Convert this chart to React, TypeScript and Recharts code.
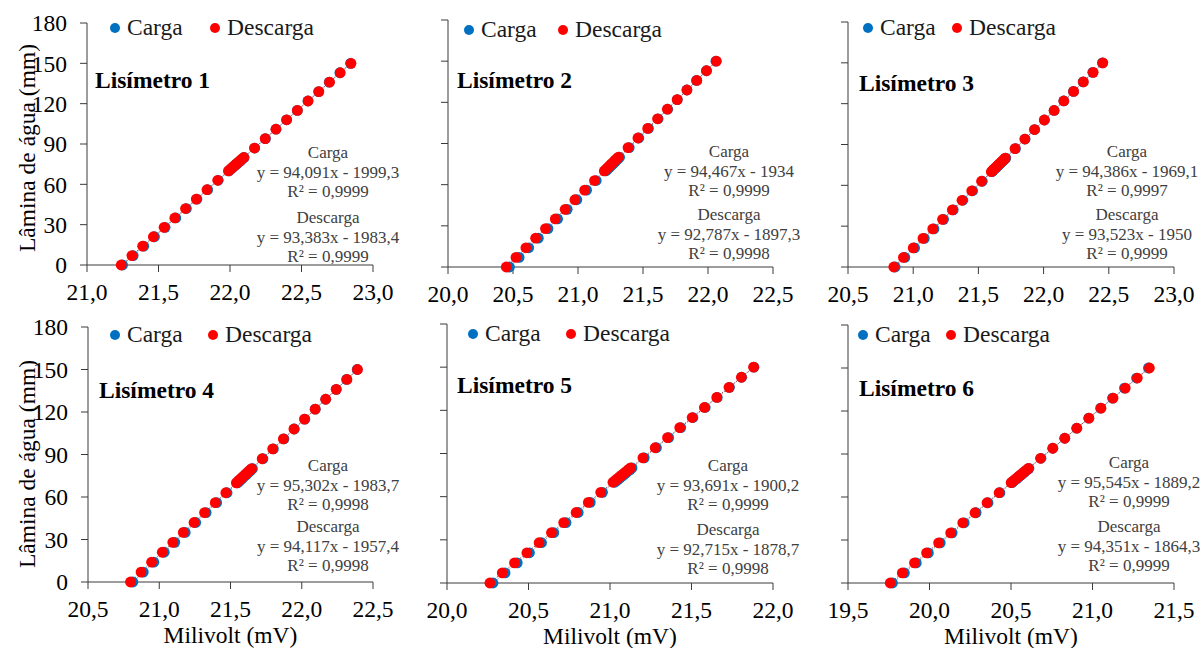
import React from 'react';
import { ScatterChart, Scatter, XAxis, YAxis, Legend } from 'recharts';

// ---------- data ----------
const lamina = [0, 7, 14, 21, 28, 35, 42, 49, 56, 63, 70, 71, 72, 73, 74, 75, 76, 77, 78, 79, 80, 87, 94, 101, 108, 115, 122, 129, 136, 143, 150];

const mv1Carga = [21.249, 21.323, 21.397, 21.472, 21.546, 21.621, 21.695, 21.769, 21.844, 21.918, 21.993, 22.003, 22.014, 22.024, 22.035, 22.046, 22.056, 22.067, 22.078, 22.088, 22.099, 22.173, 22.248, 22.322, 22.396, 22.471, 22.545, 22.620, 22.694, 22.768, 22.843];
const mv1Descarga = [21.239, 21.314, 21.389, 21.464, 21.539, 21.614, 21.689, 21.764, 21.839, 21.914, 21.989, 22.000, 22.010, 22.021, 22.032, 22.043, 22.053, 22.064, 22.075, 22.085, 22.096, 22.171, 22.246, 22.321, 22.396, 22.471, 22.546, 22.621, 22.696, 22.771, 22.846];

const mv2Carga = [20.473, 20.547, 20.621, 20.695, 20.769, 20.843, 20.917, 20.991, 21.066, 21.140, 21.214, 21.224, 21.235, 21.245, 21.256, 21.267, 21.277, 21.288, 21.298, 21.309, 21.320, 21.394, 21.468, 21.542, 21.616, 21.690, 21.764, 21.838, 21.912, 21.987, 22.061];
const mv2Descarga = [20.448, 20.523, 20.599, 20.674, 20.750, 20.825, 20.901, 20.976, 21.051, 21.127, 21.202, 21.213, 21.224, 21.235, 21.245, 21.256, 21.267, 21.278, 21.288, 21.299, 21.310, 21.385, 21.461, 21.536, 21.612, 21.687, 21.763, 21.838, 21.914, 21.989, 22.064];

const mv3Carga = [20.862, 20.936, 21.011, 21.085, 21.159, 21.233, 21.307, 21.381, 21.456, 21.530, 21.604, 21.614, 21.625, 21.636, 21.646, 21.657, 21.667, 21.678, 21.689, 21.699, 21.710, 21.784, 21.858, 21.932, 22.007, 22.081, 22.155, 22.229, 22.303, 22.377, 22.451];
const mv3Descarga = [20.851, 20.925, 21.000, 21.075, 21.150, 21.225, 21.300, 21.374, 21.449, 21.524, 21.599, 21.610, 21.620, 21.631, 21.642, 21.652, 21.663, 21.674, 21.685, 21.695, 21.706, 21.781, 21.856, 21.930, 22.005, 22.080, 22.155, 22.230, 22.305, 22.380, 22.454];

const mv4Carga = [20.815, 20.888, 20.962, 21.035, 21.109, 21.182, 21.256, 21.329, 21.403, 21.476, 21.549, 21.560, 21.570, 21.581, 21.591, 21.602, 21.612, 21.623, 21.633, 21.644, 21.654, 21.728, 21.801, 21.875, 21.948, 22.022, 22.095, 22.168, 22.242, 22.315, 22.389];
const mv4Descarga = [20.798, 20.872, 20.946, 21.021, 21.095, 21.169, 21.244, 21.318, 21.393, 21.467, 21.541, 21.552, 21.562, 21.573, 21.584, 21.594, 21.605, 21.616, 21.626, 21.637, 21.648, 21.722, 21.796, 21.871, 21.945, 22.019, 22.094, 22.168, 22.242, 22.317, 22.391];

const mv5Carga = [20.282, 20.356, 20.431, 20.506, 20.580, 20.655, 20.730, 20.805, 20.879, 20.954, 21.029, 21.039, 21.050, 21.061, 21.071, 21.082, 21.093, 21.103, 21.114, 21.125, 21.135, 21.210, 21.285, 21.360, 21.434, 21.509, 21.584, 21.658, 21.733, 21.808, 21.883];
const mv5Descarga = [20.263, 20.339, 20.414, 20.490, 20.565, 20.641, 20.716, 20.792, 20.867, 20.943, 21.018, 21.029, 21.040, 21.051, 21.061, 21.072, 21.083, 21.094, 21.105, 21.115, 21.126, 21.202, 21.277, 21.353, 21.428, 21.504, 21.579, 21.655, 21.730, 21.806, 21.881];

const mv6Carga = [19.773, 19.846, 19.919, 19.993, 20.066, 20.139, 20.213, 20.286, 20.359, 20.432, 20.506, 20.516, 20.527, 20.537, 20.547, 20.558, 20.568, 20.579, 20.589, 20.600, 20.610, 20.684, 20.757, 20.830, 20.903, 20.977, 21.050, 21.123, 21.196, 21.270, 21.343];
const mv6Descarga = [19.759, 19.833, 19.908, 19.982, 20.056, 20.130, 20.204, 20.279, 20.353, 20.427, 20.501, 20.512, 20.522, 20.533, 20.544, 20.554, 20.565, 20.575, 20.586, 20.597, 20.607, 20.681, 20.756, 20.830, 20.904, 20.978, 21.052, 21.126, 21.201, 21.275, 21.349];

const yTicks = [0, 30, 60, 90, 120, 150, 180];
const xTicks1 = [21, 21.5, 22, 22.5, 23];
const xTicks2 = [20, 20.5, 21, 21.5, 22, 22.5];
const xTicks3 = [20.5, 21, 21.5, 22, 22.5, 23];
const xTicks4 = [20.5, 21, 21.5, 22, 22.5];
const xTicks5 = [20, 20.5, 21, 21.5, 22];
const xTicks6 = [19.5, 20, 20.5, 21, 21.5];

const eq1Carga = ['Carga', 'y = 94,091x - 1999,3', 'R² = 0,9999'];
const eq1Descarga = ['Descarga', 'y = 93,383x - 1983,4', 'R² = 0,9999'];
const eq2Carga = ['Carga', 'y = 94,467x - 1934', 'R² = 0,9999'];
const eq2Descarga = ['Descarga', 'y = 92,787x - 1897,3', 'R² = 0,9998'];
const eq3Carga = ['Carga', 'y = 94,386x - 1969,1', 'R² = 0,9997'];
const eq3Descarga = ['Descarga', 'y = 93,523x - 1950', 'R² = 0,9999'];
const eq4Carga = ['Carga', 'y = 95,302x - 1983,7', 'R² = 0,9998'];
const eq4Descarga = ['Descarga', 'y = 94,117x - 1957,4', 'R² = 0,9998'];
const eq5Carga = ['Carga', 'y = 93,691x - 1900,2', 'R² = 0,9999'];
const eq5Descarga = ['Descarga', 'y = 92,715x - 1878,7', 'R² = 0,9998'];
const eq6Carga = ['Carga', 'y = 95,545x - 1889,2', 'R² = 0,9999'];
const eq6Descarga = ['Descarga', 'y = 94,351x - 1864,3', 'R² = 0,9999'];

const titles = ['Lisímetro 1', 'Lisímetro 2', 'Lisímetro 3', 'Lisímetro 4', 'Lisímetro 5', 'Lisímetro 6'];
const seriesNames = ['Carga', 'Descarga'];
const yAxisTitle = 'Lâmina de água (mm)';
const xAxisTitle = 'Milivolt (mV)';

// ---------- styling / layout ----------
const FONT = '"Liberation Serif", "Times New Roman", Times, serif';
const BLUE = '#0070C0';
const RED = '#FF0000';
const AXIS = '#3a3a3a';
const FS = 23.5;

const toPts = (xs: number[]) => xs.map((x, i) => ({ x, y: lamina[i] }));
const fmt = (v: number) => v.toFixed(1).replace('.', ',');

const panels = [
  { L: 0, T: 0, W: 400, H: 312, yw: 87, m: { top: 23, right: 27, bottom: 5, left: 0 }, xh: 42, xTicks: xTicks1, carga: mv1Carga, descarga: mv1Descarga, title: titles[0], tp: [95, 80], lg: [115, 215, 27], ex: 328, ey: [153, 218], eqC: eq1Carga, eqD: eq1Descarga, yLab: true, xLab: false },
  { L: 400, T: 0, W: 400, H: 312, yw: 48, m: { top: 20, right: 27, bottom: 3, left: 0 }, xh: 42, xTicks: xTicks2, carga: mv2Carga, descarga: mv2Descarga, title: titles[1], tp: [457, 80], lg: [469, 563, 29], ex: 729, ey: [152, 215], eqC: eq2Carga, eqD: eq2Descarga, yLab: false, xLab: false },
  { L: 800, T: 0, W: 404, H: 312, yw: 48, m: { top: 22, right: 30, bottom: 3, left: 0 }, xh: 42, xTicks: xTicks3, carga: mv3Carga, descarga: mv3Descarga, title: titles[2], tp: [859, 83], lg: [868, 957, 27], ex: 1127, ey: [152, 215], eqC: eq3Carga, eqD: eq3Descarga, yLab: false, xLab: false },
  { L: 0, T: 300, W: 400, H: 348, yw: 88, m: { top: 27, right: 27, bottom: 6, left: 0 }, xh: 60, xTicks: xTicks4, carga: mv4Carga, descarga: mv4Descarga, title: titles[3], tp: [99, 390], lg: [115, 213, 334], ex: 328, ey: [466, 527], eqC: eq4Carga, eqD: eq4Descarga, yLab: true, xLab: true },
  { L: 400, T: 300, W: 400, H: 348, yw: 47, m: { top: 24, right: 27, bottom: 5, left: 0 }, xh: 60, xTicks: xTicks5, carga: mv5Carga, descarga: mv5Descarga, title: titles[4], tp: [457, 385], lg: [473, 571, 333], ex: 728, ey: [466, 530], eqC: eq5Carga, eqD: eq5Descarga, yLab: false, xLab: true },
  { L: 800, T: 300, W: 404, H: 348, yw: 48, m: { top: 25, right: 30, bottom: 5, left: 0 }, xh: 60, xTicks: xTicks6, carga: mv6Carga, descarga: mv6Descarga, title: titles[5], tp: [859, 388], lg: [863, 951, 334], ex: 1129, ey: [463, 527], eqC: eq6Carga, eqD: eq6Descarga, yLab: false, xLab: true },
];

const dotShape = (color: string) => (props: any) => (
  <circle cx={props.cx} cy={props.cy} r={5.4} fill={color} />
);

const makeLegend = (gap: number) => (props: any) => {
  const payload = props.payload || [];
  const items = seriesNames.map((n, i) => {
    const p = payload.find((e: any) => e.value === n);
    return { name: n, color: (p && p.color) || (i === 0 ? BLUE : RED) };
  });
  return (
    <div style={{ position: 'relative', height: 24, width: gap + 120, fontFamily: FONT, fontSize: FS, lineHeight: '24px', color: '#1a1a1a' }}>
      {items.map((it, i) => (
        <div key={it.name} style={{ position: 'absolute', left: i === 0 ? 0 : gap, top: 0, whiteSpace: 'nowrap' }}>
          <span style={{ display: 'inline-block', width: 10, height: 10, borderRadius: 5, background: it.color, marginRight: 7, verticalAlign: 'middle', position: 'relative', top: -2 }} />
          {it.name}
        </div>
      ))}
    </div>
  );
};

function Panel({ p }: { p: any }) {
  const cData = toPts(p.carga);
  const dData = toPts(p.descarga);
  const xDomain = [p.xTicks[0], p.xTicks[p.xTicks.length - 1]];
  return (
    <div style={{ position: 'absolute', left: p.L, top: p.T }}>
      <ScatterChart width={p.W} height={p.H} margin={p.m}>
        <XAxis
          type="number"
          dataKey="x"
          domain={xDomain}
          ticks={p.xTicks}
          tickFormatter={fmt}
          allowDataOverflow
          height={p.xh}
          stroke={AXIS}
          tickSize={7}
          tickMargin={11}
          tick={{ fill: '#000', fontSize: FS, fontFamily: FONT }}
          label={p.xLab ? { value: xAxisTitle, position: 'insideBottom', offset: -1, fill: '#000', fontSize: FS, fontFamily: FONT } : undefined}
        />
        <YAxis
          type="number"
          dataKey="y"
          domain={[0, 180]}
          ticks={yTicks}
          width={p.yw}
          stroke={AXIS}
          tickSize={7}
          tickMargin={13}
          tickFormatter={p.yLab ? (v: number) => String(v) : () => ''}
          tick={{ fill: '#000', fontSize: FS, fontFamily: FONT }}
        />
        <Legend
          layout="horizontal"
          verticalAlign="middle"
          align="center"
          content={makeLegend(p.lg[1] - p.lg[0])}
          wrapperStyle={{ left: p.lg[0] - 5 - p.L, top: p.lg[2] - 12 - p.T, width: 'auto', height: 24 }}
        />
        <Scatter
          name={seriesNames[0]}
          data={cData}
          fill={BLUE}
          shape={dotShape(BLUE)}
          line={{ stroke: '#7f8fa6', strokeWidth: 1, strokeDasharray: '1.5 1.5' }}
          lineType="fitting"
          isAnimationActive={false}
        />
        <Scatter
          name={seriesNames[1]}
          data={dData}
          fill={RED}
          shape={dotShape(RED)}
          line={{ stroke: '#a05050', strokeWidth: 1, strokeDasharray: '1.5 1.5' }}
          lineType="fitting"
          isAnimationActive={false}
        />
      </ScatterChart>
    </div>
  );
}

const textAbs = (left: number, top: number, extra: any = {}): React.CSSProperties => ({
  position: 'absolute', left, top, fontFamily: FONT, whiteSpace: 'nowrap', ...extra,
});

export default function App() {
  return (
    <div style={{ position: 'absolute', left: 0, top: 0, width: 1204, height: 648, background: '#fff', overflow: 'hidden' }}>
      {panels.map((p, i) => (
        <Panel key={i} p={p} />
      ))}
      {panels.map((p, i) => (
        <div key={'t' + i} style={textAbs(p.tp[0], p.tp[1] - 12, { fontSize: FS, fontWeight: 'bold', lineHeight: '24px', color: '#000' })}>
          {p.title}
        </div>
      ))}
      {panels.map((p, i) => (
        <React.Fragment key={'e' + i}>
          {[p.eqC, p.eqD].map((block: string[], j: number) => (
            <div key={j} style={textAbs(p.ex - 120, p.ey[j] - 10, { width: 240, textAlign: 'center', fontSize: 17, lineHeight: '19.7px', color: '#404040' })}>
              {block.map((line) => (
                <div key={line}>{line}</div>
              ))}
            </div>
          ))}
        </React.Fragment>
      ))}
      {[148, 464].map((cy, i) => (
        <div key={'y' + i} style={textAbs(27, cy, { fontSize: FS, lineHeight: '24px', color: '#000', transform: 'translate(-50%, -50%) rotate(-90deg)' })}>
          {yAxisTitle}
        </div>
      ))}
    </div>
  );
}
